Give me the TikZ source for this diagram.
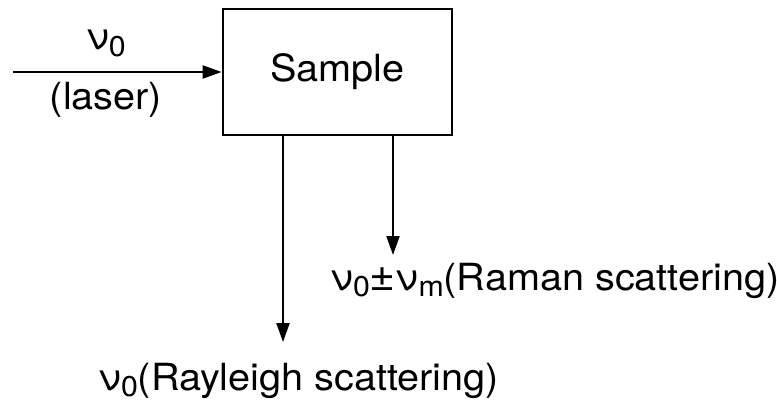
\documentclass[tikz,border=0pt]{standalone}
\usepackage{fontspec}
\setmainfont[FakeStretch=1.06]{TeX Gyre Heros}
\usetikzlibrary{positioning, arrows.meta}
\newcommand{\nuv}[1]{ν\raisebox{-0.35ex}{\fontsize{14.3}{14.3}\selectfont #1}}
\tikzset{
  every node/.style={font=\fontsize{18.7}{22}\selectfont},
  arr/.style={-{Triangle[length=9.5pt, width=6.5pt]}, line width=1.1pt},
  samplebox/.style={draw, line width=1.4pt, minimum width=114.5pt, minimum height=63pt, inner sep=0pt},
  lbl/.style={inner sep=0pt},
}

\begin{document}
\begin{tikzpicture}[x=0.5pt, y=-0.5pt]
  \useasboundingbox (0,0) rectangle (777,401);
  % sample and the incoming laser
  \node[samplebox] (sample) at (337.5,72) {Sample};
  \coordinate (src) at (13,72);
  \draw[arr] (src) -- (sample.west);
  \node[lbl, anchor=base] (nu0) at (106,50) {\nuv{0}};
  \node[lbl, anchor=base] (laser) at (106,110) {(laser)};
  % scattered light
  \coordinate (ramtip) at (393,255);
  \coordinate (raytip) at (283,342);
  \draw[arr] (ramtip |- sample.south) -- (ramtip);
  \draw[arr] (raytip |- sample.south) -- (raytip);
  \node[lbl, anchor=base west] (raman) at (330,290) {\nuv{0}{\fontsize{21}{22}\selectfont ±}\nuv{m}(Raman scattering)};
  \node[lbl, anchor=base west] (rayleigh) at (98,390) {\nuv{0}(Rayleigh scattering)};
\end{tikzpicture}
\end{document}
